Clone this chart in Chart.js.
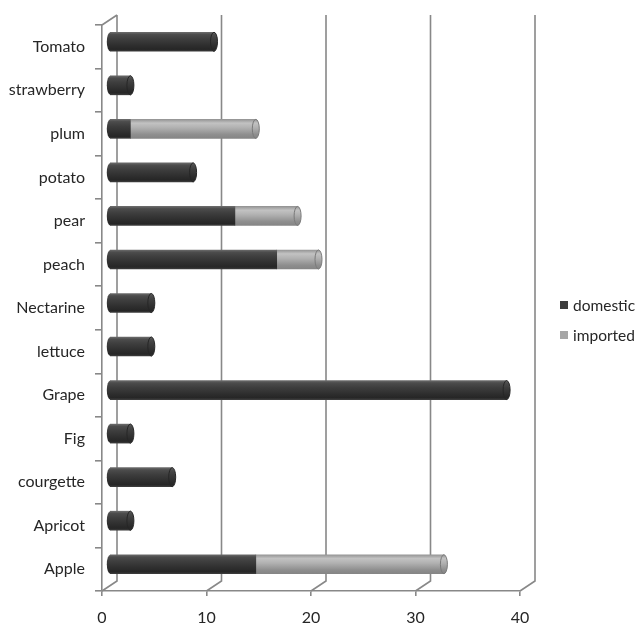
<!DOCTYPE html>
<html>
<head>
<meta charset="utf-8">
<script src="https://cdn.jsdelivr.net/npm/chart.js@4/dist/chart.umd.min.js"></script>
<style>
  html, body { margin: 0; padding: 0; background: #fff; }
  #wrap { position: relative; width: 639px; height: 624px; }
  #legend { position: absolute; left: 560px; top: 290px; font: 15.5px Lato, sans-serif; color: #262626; }
  .item { display: flex; align-items: center; height: 30px; white-space: nowrap; }
  .sw { width: 8px; height: 8px; margin-right: 5px; }
</style>
</head>
<body>
<div id="wrap">
  <canvas id="c" width="639" height="624"></canvas>
  <div id="legend"></div>
</div>
<script>
// Produce by origin, top row first
const categories = ['Tomato', 'strawberry', 'plum', 'potato', 'pear', 'peach', 'Nectarine',
                    'lettuce', 'Grape', 'Fig', 'courgette', 'Apricot', 'Apple'];
const domestic = [10, 2, 2, 8, 12, 16, 4, 4, 38, 2, 6, 2, 14];
const imported = [0, 0, 12, 0, 6, 4, 0, 0, 0, 0, 0, 0, 18];
const seriesNames = ['domestic', 'imported'];
const xTicks = [0, 10, 20, 30, 40];

// Look of the pseudo-3D box and the cylinders
const DEPTH_X = 15, DEPTH_Y = -10;
const BAR = 19, CAP_RX = 3.5;
const LINE = '#888888';
const SOLID = ['#3d3d3d', '#a6a6a6'];
const RIM = ['#262626', '#7a7a7a'];
const STOPS = [
  [[0, '#6a6a6a'], [0.12, '#4c4c4c'], [0.35, '#3e3e3e'], [0.7, '#2e2e2e'], [0.9, '#262626'], [1, '#3c3c3c']],
  [[0, '#959595'], [0.2, '#c2c2c2'], [0.45, '#b0b0b0'], [0.8, '#8e8e8e'], [1, '#858585']]
];

function shade(k) {
  return (c) => {
    const y = c.chart.scales && c.chart.scales.y;
    if (c.type !== 'data' || !y) return SOLID[k];
    const yc = y.getPixelForValue(c.dataIndex);
    if (!Number.isFinite(yc)) return SOLID[k];
    const g = c.chart.ctx.createLinearGradient(0, yc - BAR / 2, 0, yc + BAR / 2);
    STOPS[k].forEach(([o, col]) => g.addColorStop(o, col));
    return g;
  };
}

// Back wall, floor edges and cylinder end caps
const depthBox = {
  id: 'depthBox',
  beforeDatasetsDraw(chart) {
    const { ctx, chartArea: a, scales: { x } } = chart;
    ctx.save();
    ctx.strokeStyle = LINE;
    ctx.lineWidth = 1.6;
    ctx.beginPath();
    xTicks.forEach(v => {
      const px = x.getPixelForValue(v);
      ctx.moveTo(px, a.bottom);
      ctx.lineTo(px + DEPTH_X, a.bottom + DEPTH_Y);
      ctx.lineTo(px + DEPTH_X, a.top + DEPTH_Y);
    });
    ctx.moveTo(a.left, a.top);
    ctx.lineTo(a.left + DEPTH_X, a.top + DEPTH_Y);
    ctx.stroke();
    ctx.restore();

    // bars sit halfway into the depth of the box
    ctx.save();
    ctx.translate(DEPTH_X / 2, DEPTH_Y / 2);
    const first = chart.getDatasetMeta(0).data;
    first.forEach(el => {
      ctx.beginPath();
      ctx.ellipse(el.base, el.y, CAP_RX, el.height / 2, 0, Math.PI / 2, Math.PI * 1.5);
      ctx.closePath();
      ctx.fillStyle = el.options.backgroundColor;
      ctx.fill();
    });
  },
  afterDatasetsDraw(chart) {
    const { ctx } = chart;
    const m0 = chart.getDatasetMeta(0).data;
    const m1 = chart.getDatasetMeta(1).data;
    m0.forEach((el0, i) => {
      const useTop = imported[i] > 0;
      const el = useTop ? m1[i] : el0;
      const k = useTop ? 1 : 0;
      ctx.beginPath();
      ctx.ellipse(el.x, el.y, CAP_RX, el.height / 2, 0, 0, Math.PI * 2);
      ctx.fillStyle = el.options.backgroundColor;
      ctx.fill();
      ctx.strokeStyle = RIM[k];
      ctx.lineWidth = 1;
      ctx.stroke();
    });
    ctx.restore();
  }
};

Chart.defaults.font.family = 'Lato, sans-serif';
Chart.defaults.font.size = 16;
Chart.defaults.color = '#262626';

new Chart(document.getElementById('c'), {
  type: 'bar',
  data: {
    labels: categories,
    datasets: [
      { label: seriesNames[0], data: domestic, backgroundColor: shade(0), clip: false },
      { label: seriesNames[1], data: imported, backgroundColor: shade(1), clip: false }
    ]
  },
  options: {
    indexAxis: 'y',
    responsive: false,
    animation: false,
    barThickness: BAR,
    borderWidth: 0,
    layout: { padding: { top: 25, right: 119, bottom: 0, left: 0 } },
    plugins: { legend: { display: false }, tooltip: { enabled: false } },
    scales: {
      x: {
        stacked: true,
        min: 0, max: 40,
        afterFit: s => { s.height = 33; },
        ticks: { stepSize: 10, padding: 12 },
        grid: { drawOnChartArea: false, tickLength: 5, color: LINE, lineWidth: 1.6 },
        border: { color: LINE, width: 1.6 }
      },
      y: {
        stacked: true,
        afterFit: s => { s.width = 102; },
        ticks: { padding: 10 },
        grid: { offset: true, drawOnChartArea: false, tickLength: 7, color: LINE, lineWidth: 1.6 },
        border: { color: LINE, width: 1.6 }
      }
    }
  },
  plugins: [depthBox]
});

// Legend
const legend = document.getElementById('legend');
seriesNames.forEach((name, k) => {
  const row = document.createElement('div');
  row.className = 'item';
  const sw = document.createElement('span');
  sw.className = 'sw';
  sw.style.background = SOLID[k];
  row.appendChild(sw);
  row.appendChild(document.createTextNode(name));
  legend.appendChild(row);
});
</script>
</body>
</html>
